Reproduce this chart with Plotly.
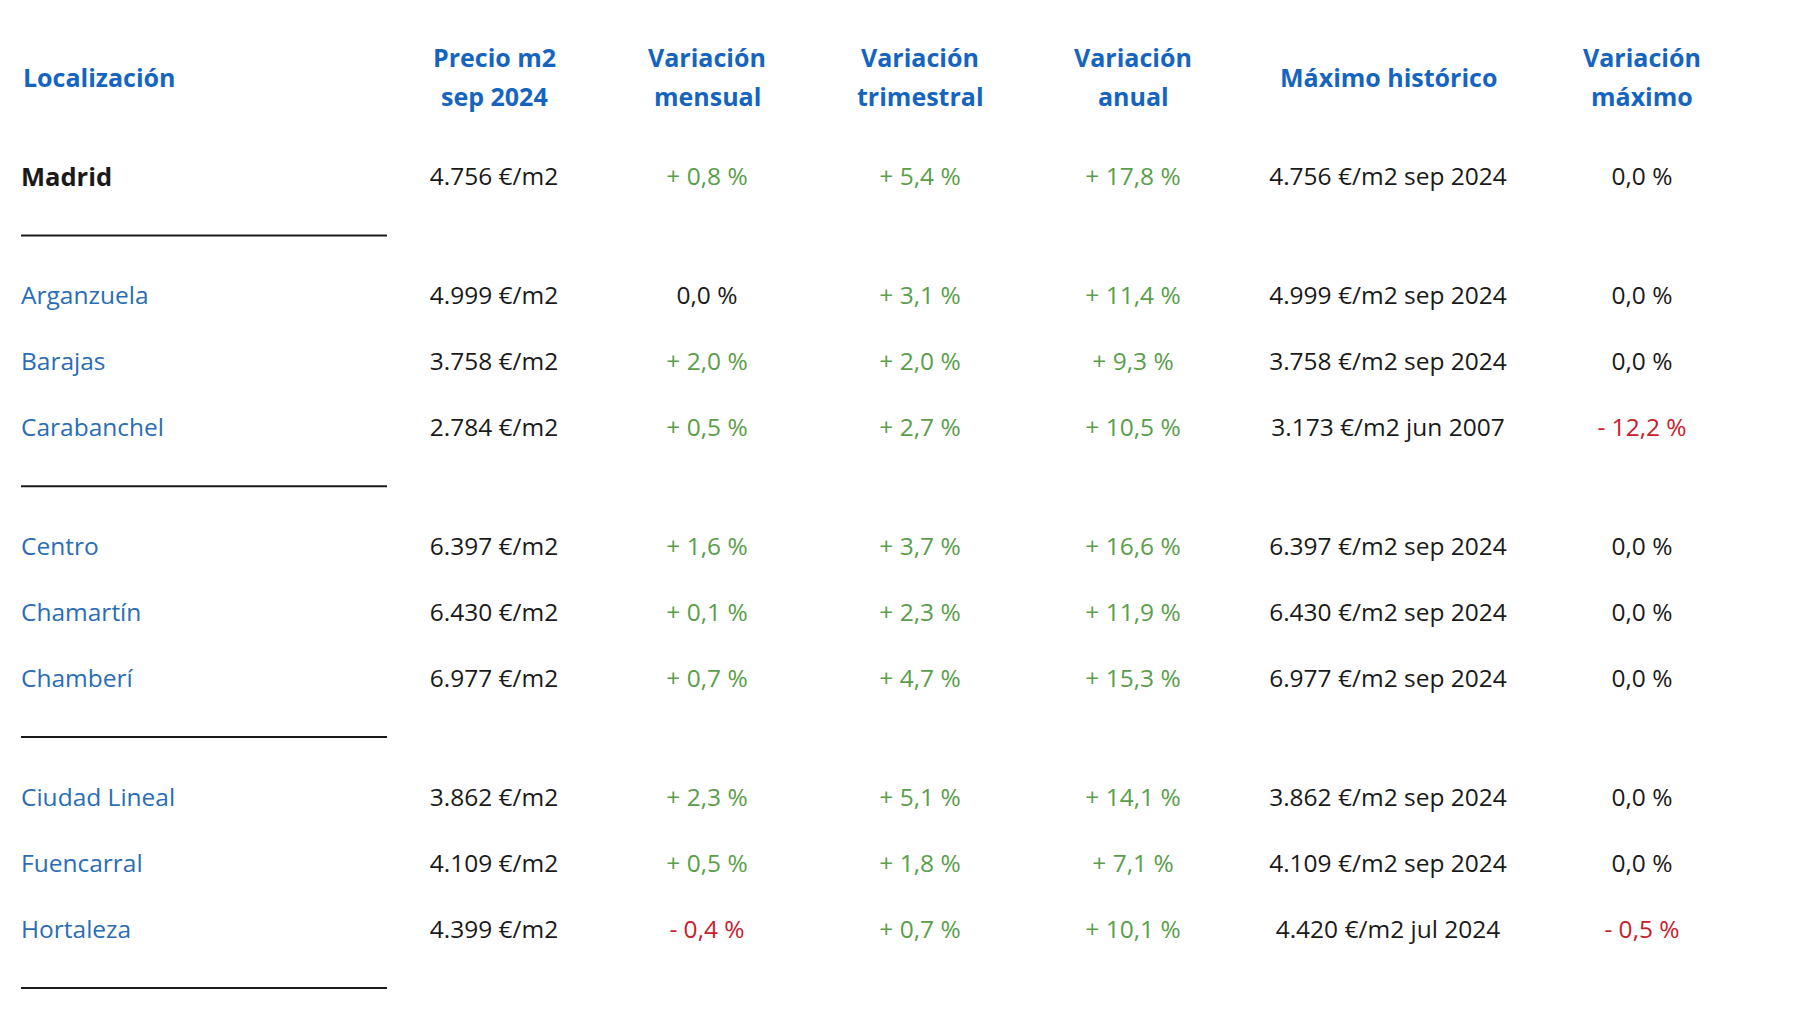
import plotly.graph_objects as go

# ---- data ----
headers = [["Localización"], ["Precio m2", "sep 2024"], ["Variación", "mensual"],
           ["Variación", "trimestral"], ["Variación", "anual"], ["Máximo histórico"],
           ["Variación", "máximo"]]
locations = ["Madrid", "Arganzuela", "Barajas", "Carabanchel", "Centro", "Chamartín",
             "Chamberí", "Ciudad Lineal", "Fuencarral", "Hortaleza"]
groups = [0, 1, 1, 1, 2, 2, 2, 3, 3, 3]
price = [4756, 4999, 3758, 2784, 6397, 6430, 6977, 3862, 4109, 4399]
var_month = [0.8, 0.0, 2.0, 0.5, 1.6, 0.1, 0.7, 2.3, 0.5, -0.4]
var_quarter = [5.4, 3.1, 2.0, 2.7, 3.7, 2.3, 4.7, 5.1, 1.8, 0.7]
var_year = [17.8, 11.4, 9.3, 10.5, 16.6, 11.9, 15.3, 14.1, 7.1, 10.1]
max_price = [4756, 4999, 3758, 3173, 6397, 6430, 6977, 3862, 4109, 4420]
max_date = ["sep 2024", "sep 2024", "sep 2024", "jun 2007", "sep 2024", "sep 2024",
            "sep 2024", "sep 2024", "sep 2024", "jul 2024"]
var_max = [0.0, 0.0, 0.0, -12.2, 0.0, 0.0, 0.0, 0.0, 0.0, -0.5]

# ---- styling / layout ----
COL_X = [21, 494, 707, 920, 1133, 1388, 1642]
LINE_END_X = 387
HEADER_BLUE = "#1565c0"
NAME_BLUE = "#2a6db5"
GREEN = "#5a9e4b"
RED = "#c8202a"
BLACK = "#1a1a1a"
FONT = "Open Sans"
DATA_SIZE = 24.5
BOLD_NAME_SIZE = 25.5
HEAD_SIZE = 25
GAP = 0.8        # extra spacing between groups (row units)
TEXT_NUDGE = 0.05  # visual vertical centering of row text

rows_y = [i + GAP * g for i, g in enumerate(groups)]
text_y = [y + TEXT_NUDGE for y in rows_y]


def fmt_num(v):
    return f"{v:,}".replace(",", ".")


def fmt_pct(v, signed=True):
    s = f"{abs(v):.1f}".replace(".", ",")
    if v > 0 and signed:
        return f"+ {s} %"
    if v < 0:
        return f"- {s} %"
    return f"{s} %"


def pct_color(v):
    if v > 0:
        return GREEN
    if v < 0:
        return RED
    return BLACK


fig = go.Figure()

# location names
fig.add_trace(go.Scatter(
    x=[COL_X[0]] * len(locations), y=text_y, mode="text",
    text=[f"<b>{n}</b>" if g == 0 else n for n, g in zip(locations, groups)],
    textposition="middle right",
    textfont=dict(family=FONT,
                  size=[BOLD_NAME_SIZE if g == 0 else DATA_SIZE for g in groups],
                  color=[BLACK if g == 0 else NAME_BLUE for g in groups]),
    hoverinfo="skip", showlegend=False))

# price column
fig.add_trace(go.Scatter(
    x=[COL_X[1]] * len(price), y=text_y, mode="text",
    text=[f"{fmt_num(p)} €/m2" for p in price], textposition="middle center",
    textfont=dict(family=FONT, size=DATA_SIZE, color=BLACK),
    hoverinfo="skip", showlegend=False))

# variation columns
for col, vals in zip([2, 3, 4], [var_month, var_quarter, var_year]):
    fig.add_trace(go.Scatter(
        x=[COL_X[col]] * len(vals), y=text_y, mode="text",
        text=[fmt_pct(v) for v in vals], textposition="middle center",
        textfont=dict(family=FONT, size=DATA_SIZE, color=[pct_color(v) for v in vals]),
        hoverinfo="skip", showlegend=False))

# historical maximum
fig.add_trace(go.Scatter(
    x=[COL_X[5]] * len(max_price), y=text_y, mode="text",
    text=[f"{fmt_num(p)} €/m2 {d}" for p, d in zip(max_price, max_date)],
    textposition="middle center",
    textfont=dict(family=FONT, size=DATA_SIZE, color=BLACK),
    hoverinfo="skip", showlegend=False))

# variation vs maximum
fig.add_trace(go.Scatter(
    x=[COL_X[6]] * len(var_max), y=text_y, mode="text",
    text=[fmt_pct(v) for v in var_max], textposition="middle center",
    textfont=dict(family=FONT, size=DATA_SIZE, color=[pct_color(v) for v in var_max]),
    hoverinfo="skip", showlegend=False))

# headers
HEAD_Y_SINGLE = -1.5
HEAD_Y_LINES = [-1.8, -1.21]
for i, lines in enumerate(headers):
    ys = [HEAD_Y_SINGLE] if len(lines) == 1 else HEAD_Y_LINES
    for txt, yy in zip(lines, ys):
        fig.add_annotation(
            x=COL_X[i], y=yy, xref="x", yref="y", text=f"<b>{txt}</b>",
            showarrow=False, xanchor="left" if i == 0 else "center", yanchor="middle",
            font=dict(family=FONT, size=HEAD_SIZE, color=HEADER_BLUE))

# group separator lines (under first column)
last_rows = [max(y for y, g in zip(rows_y, groups) if g == k) for k in sorted(set(groups))]
for ly in last_rows:
    fig.add_shape(type="line", xref="x", yref="y", x0=COL_X[0], x1=LINE_END_X,
                  y0=ly + 0.9, y1=ly + 0.9, line=dict(color=BLACK, width=2))

fig.update_layout(
    width=1800, height=1013,
    margin=dict(l=0, r=0, t=0, b=0),
    paper_bgcolor="white", plot_bgcolor="white",
    xaxis=dict(range=[0, 1800], visible=False, fixedrange=True),
    yaxis=dict(range=[12.68, -2.667], visible=False, fixedrange=True),
    showlegend=False,
)

fig.write_html("out.html", config={"displayModeBar": False},
               post_script="document.body.style.margin='0';")
